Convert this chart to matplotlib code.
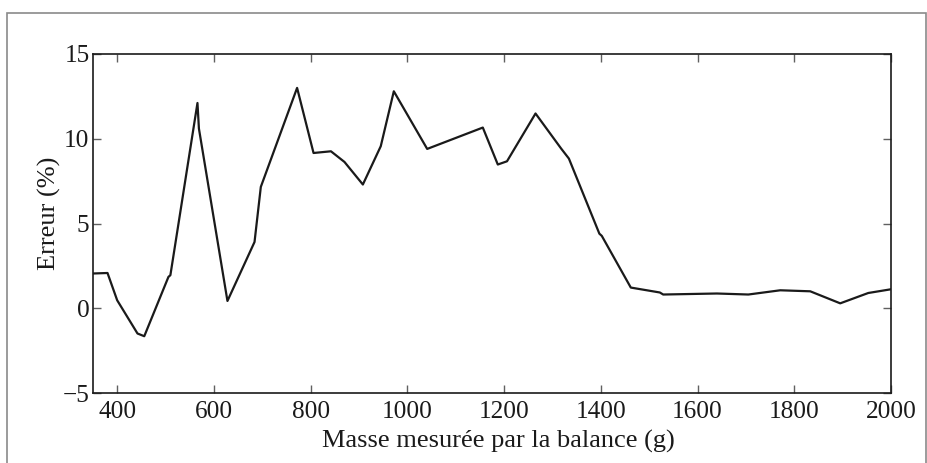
import matplotlib
matplotlib.use("Agg")
import matplotlib.pyplot as plt
from matplotlib.patches import Rectangle

masse = [350, 380, 400, 442, 456, 506, 510, 566, 569, 628, 684, 697, 772, 806,
         842, 870, 908, 945, 972, 1041, 1156, 1187, 1206, 1265, 1318, 1334,
         1397, 1402, 1462, 1522, 1529, 1640, 1705, 1771, 1833, 1895, 1953, 2000]
erreur = [2.05, 2.08, 0.47, -1.49, -1.65, 1.85, 1.95, 12.11, 10.6, 0.43, 3.91,
          7.16, 13.0, 9.16, 9.26, 8.63, 7.30, 9.56, 12.8, 9.40, 10.66, 8.48,
          8.67, 11.49, 9.42, 8.83, 4.40, 4.27, 1.22, 0.93, 0.81, 0.87, 0.81,
          1.06, 1.00, 0.29, 0.90, 1.12]
xticks = [400, 600, 800, 1000, 1200, 1400, 1600, 1800, 2000]
yticks = [-5, 0, 5, 10, 15]

plt.rcParams['font.family'] = ['Liberation Serif', 'DejaVu Serif']
plt.rcParams['mathtext.fontset'] = 'stix'

W, H = 927, 463
fig = plt.figure(figsize=(W / 100, H / 100), dpi=100)
ax = fig.add_axes([93 / W, 1 - 393 / H, (891 - 93) / W, (393 - 54) / H])

ax.plot(masse, erreur, color='#1a1a1a', linewidth=1.6)
ax.set_xlim(350, 2000)
ax.set_ylim(-5, 15)
ax.set_xticks(xticks)
ax.set_yticks(yticks)
ax.tick_params(direction='in', length=5.8, width=1.0, color='#606060',
               top=True, right=True, labelsize=18.2, pad=2.5, labelcolor='#1a1a1a')
ax.tick_params(axis='x', pad=5.5)
for s in ax.spines.values():
    s.set_linewidth(1.2)
    s.set_color('#1a1a1a')
ax.set_xlabel('Masse mesurée par la balance (g)', fontsize=19, color='#1a1a1a')
ax.set_ylabel('Erreur (%)', fontsize=19, color='#1a1a1a')
ax.xaxis.set_label_coords((498 - 93) / 798, -0.108)
ax.yaxis.set_label_coords(-0.040, 0.53)

fig.patches.append(Rectangle((7.5 / W, -0.05), (925.5 - 7.5) / W, 1.05 - 13 / H,
                             transform=fig.transFigure, fill=False,
                             edgecolor='#8a8a8a', linewidth=1.2))

fig.savefig('out.png', dpi=100)
